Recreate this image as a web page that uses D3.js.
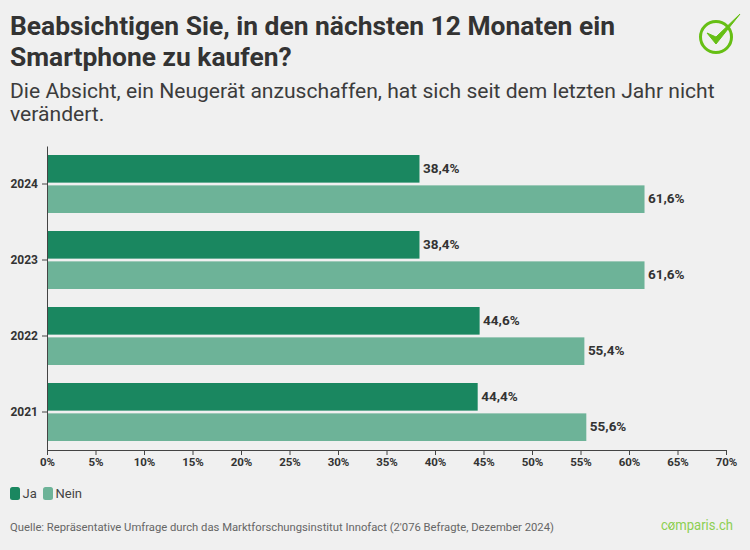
<!DOCTYPE html>
<html>
<head>
<meta charset="utf-8">
<script src="https://cdn.jsdelivr.net/npm/d3@7"></script>
<style>
  html, body { margin: 0; padding: 0; background: #f0f0f0; }
  svg { display: block; font-family: Roboto, sans-serif; }
</style>
</head>
<body>
<svg id="chart" width="750" height="550"></svg>
<script>
// Data
const years = ["2024", "2023", "2022", "2021"];
const seriesNames = ["Ja", "Nein"];
const jaValues = [38.4, 38.4, 44.6, 44.4];
const neinValues = [61.6, 61.6, 55.4, 55.6];
const xTicks = [0, 5, 10, 15, 20, 25, 30, 35, 40, 45, 50, 55, 60, 65, 70];
const titleLines = ["Beabsichtigen Sie, in den nächsten 12 Monaten ein", "Smartphone zu kaufen?"];
const subtitleLines = ["Die Absicht, ein Neugerät anzuschaffen, hat sich seit dem letzten Jahr nicht", "verändert."];
const sourceText = "Quelle: Repräsentative Umfrage durch das Marktforschungsinstitut Innofact (2'076 Befragte, Dezember 2024)";

const colors = { Ja: "#1a8760", Nein: "#6db398" };
const svg = d3.select("#chart");

// Header
svg.selectAll(".title").data(titleLines).enter().append("text")
  .attr("class", "title")
  .attr("x", 10)
  .attr("y", (d, i) => 35 + i * 31)
  .attr("font-size", 26.4)
  .attr("font-weight", 700)
  .attr("fill", "#333333")
  .text(d => d);

svg.selectAll(".subtitle").data(subtitleLines).enter().append("text")
  .attr("class", "subtitle")
  .attr("x", 10)
  .attr("y", (d, i) => 98 + i * 23)
  .attr("font-size", 21.1)
  .attr("fill", "#3c3c3c")
  .text(d => d);

// Scales
const xScale = d3.scaleLinear().domain([0, 70]).range([47, 726]);
const yScale = d3.scaleBand().domain(years).range([146, 450]).paddingInner(18 / 76).paddingOuter(9 / 76);
const innerScale = d3.scaleBand().domain(seriesNames).range([0, yScale.bandwidth()]).paddingInner(0.09);

const rows = years.map((y, i) => ({ year: y, Ja: jaValues[i], Nein: neinValues[i] }));
const fmt = v => v.toFixed(1).replace(".", ",") + "%";

// Bars, one group per year
const groups = svg.selectAll(".year").data(rows).enter().append("g")
  .attr("class", "year")
  .attr("transform", d => `translate(0,${yScale(d.year)})`);

seriesNames.forEach(name => {
  groups.append("rect")
    .attr("x", xScale(0))
    .attr("y", innerScale(name))
    .attr("width", d => xScale(d[name]) - xScale(0))
    .attr("height", innerScale.bandwidth())
    .attr("fill", colors[name]);

  groups.append("text")
    .attr("x", d => xScale(d[name]) + 3.5)
    .attr("y", innerScale(name) + innerScale.bandwidth() / 2 - 1)
    .attr("dy", "0.36em")
    .attr("font-size", 13.5)
    .attr("font-weight", 700)
    .attr("fill", "#333333")
    .text(d => fmt(d[name]));
});

// Axes
const xAxis = d3.axisBottom(xScale).tickValues(xTicks).tickFormat(d => d + "%").tickSize(5).tickSizeOuter(5);
const xAxisG = svg.append("g").attr("transform", "translate(0,450)").call(xAxis);
xAxisG.selectAll("text").attr("font-family", "Roboto, sans-serif").attr("font-size", 11.5).attr("font-weight", 700).attr("fill", "#333333").attr("y", 8);
xAxisG.selectAll("line, path").attr("stroke", "#444444");

const yAxis = d3.axisLeft(yScale).tickSize(5).tickSizeOuter(0);
const yAxisG = svg.append("g").attr("transform", "translate(47,0)").call(yAxis);
yAxisG.selectAll("text").attr("font-family", "Roboto, sans-serif").attr("font-size", 12).attr("font-weight", 700).attr("fill", "#333333").attr("x", -9);
yAxisG.selectAll("line, path").attr("stroke", "#444444");

// Legend
const legendX = [10, 43];
seriesNames.forEach((name, i) => {
  svg.append("rect")
    .attr("x", legendX[i]).attr("y", 487)
    .attr("width", 10).attr("height", 13).attr("rx", 2.5)
    .attr("fill", colors[name]);
  svg.append("text")
    .attr("x", legendX[i] + 12.5).attr("y", 498)
    .attr("font-size", 13)
    .attr("fill", "#444444")
    .text(name);
});

// Footer
svg.append("text")
  .attr("x", 10).attr("y", 531)
  .attr("font-size", 11.25)
  .attr("fill", "#666666")
  .text(sourceText);

svg.append("text")
  .attr("x", 661).attr("y", 530)
  .attr("textLength", 72)
  .attr("lengthAdjust", "spacingAndGlyphs")
  .attr("font-size", 15)
  .attr("fill", "#8ccf52")
  .text("comparis.ch");

// small check inside the "o" of the wordmark
svg.append("path")
  .attr("d", "M668 525.5 L670 528 L674.5 522")
  .attr("fill", "none")
  .attr("stroke", "#8ccf52")
  .attr("stroke-width", 1);

// Check mark logo
const logo = svg.append("g").attr("fill", "none").attr("stroke", "#66bf14");
logo.append("circle").attr("cx", 716).attr("cy", 37).attr("r", 15.5).attr("stroke-width", 3);
logo.append("path")
  .attr("d", "M707 33 L716 44 L740 14 L716 37 Z")
  .attr("fill", "#66bf14")
  .attr("stroke-width", 1);
</script>
</body>
</html>
